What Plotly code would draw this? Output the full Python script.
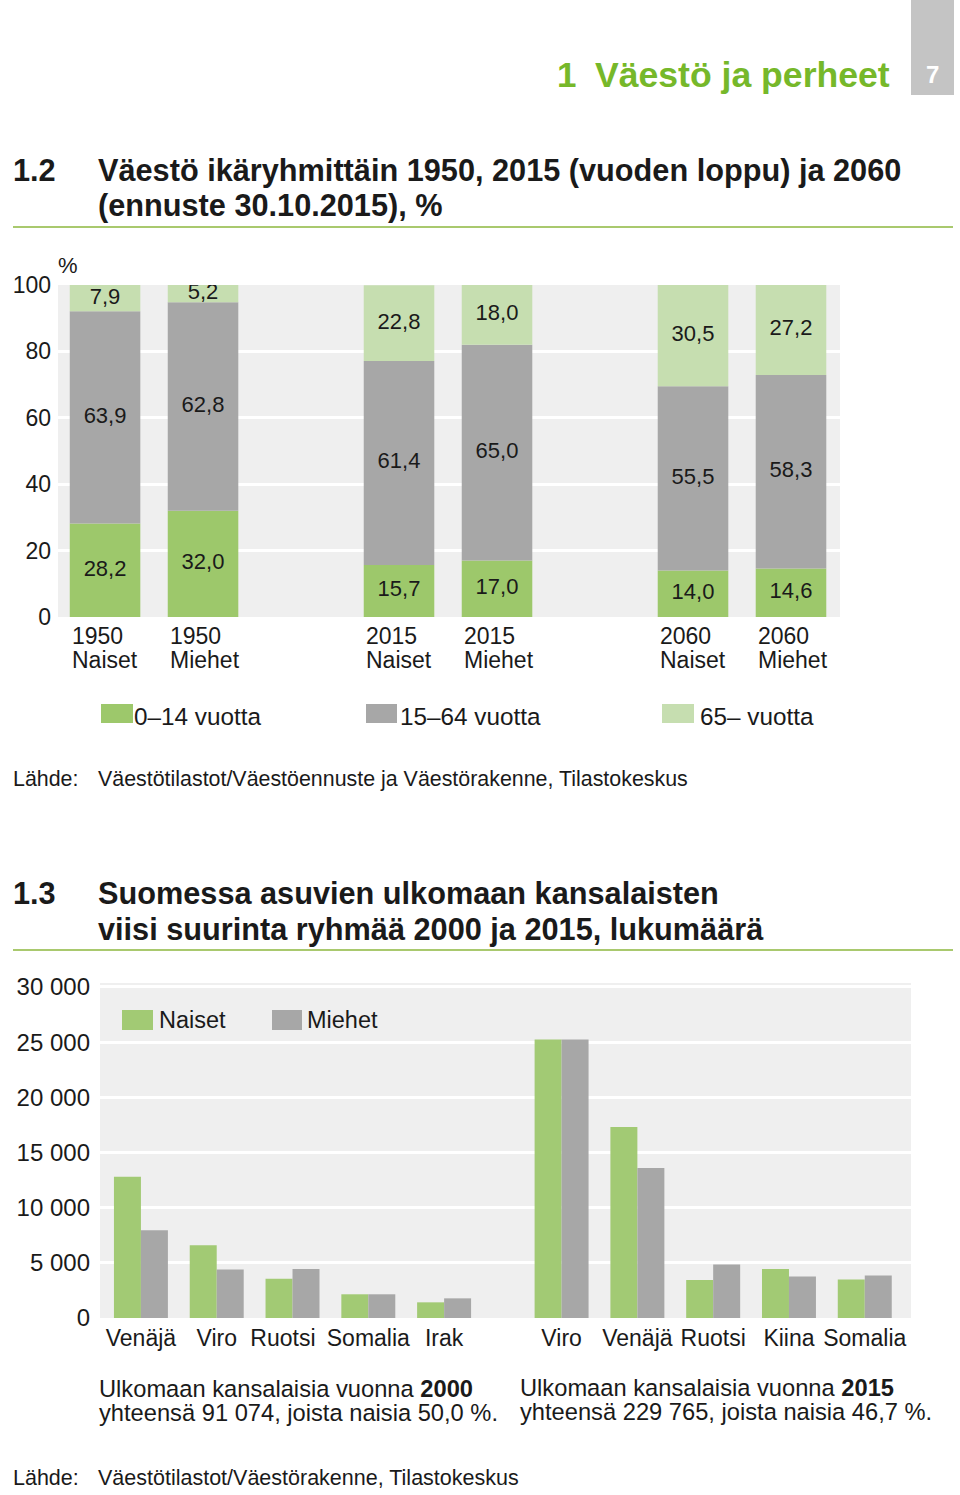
import plotly.graph_objects as go

# ---------------- data ----------------
# Chart 1.2
groups_year = ["1950", "1950", "2015", "2015", "2060", "2060"]
groups_sex = ["Naiset", "Miehet", "Naiset", "Miehet", "Naiset", "Miehet"]
age_0_14 = [28.2, 32.0, 15.7, 17.0, 14.0, 14.6]
age_15_64 = [63.9, 62.8, 61.4, 65.0, 55.5, 58.3]
age_65 = [7.9, 5.2, 22.8, 18.0, 30.5, 27.2]
age_names = ["0\u201314 vuotta", "15\u201364 vuotta", "65\u2013 vuotta"]

# Chart 1.3
countries_2000 = ["Venäjä", "Viro", "Ruotsi", "Somalia", "Irak"]
women_2000 = [12800, 6600, 3550, 2150, 1420]
men_2000 = [7950, 4400, 4450, 2150, 1780]
countries_2015 = ["Viro", "Venäjä", "Ruotsi", "Kiina", "Somalia"]
women_2015 = [25250, 17300, 3450, 4450, 3500]
men_2015 = [25250, 13600, 4850, 3750, 3850]

# ---------------- style ----------------
W, H = 960, 1495
FONT = "Liberation Sans, Arial, sans-serif"
TXT = "#1a1a1a"
C_GREEN = "#9dc86b"
C_GREEN2 = "#a2ca74"
C_GRAY = "#a7a7a7"
C_LIGHT = "#c6deb0"
C_BG = "#efefef"
C_HEAD = "#76b82a"
C_RULE = "#a9c96e"


def px(x):
    return x / W


def py(y):
    return 1 - y / H


def fmt(v):
    return f"{v:.1f}".replace(".", ",")


fig = go.Figure()

# ---- chart 1: stacked bars (manual base, overlay mode) ----
slots = [0, 1, 3, 4, 6, 7]
bw1 = 0.72
base1 = [0] * 6
base2 = [a for a in age_0_14]
base3 = [a + b for a, b in zip(age_0_14, age_15_64)]
for vals, base, col, name in [
    (age_0_14, base1, C_GREEN, age_names[0]),
    (age_15_64, base2, C_GRAY, age_names[1]),
    (age_65, base3, C_LIGHT, age_names[2]),
]:
    fig.add_trace(go.Bar(
        x=slots, y=vals, base=base, width=bw1, offset=-bw1 / 2,
        marker=dict(color=col, line=dict(width=0)), name=name,
        xaxis="x", yaxis="y", showlegend=False, opacity=1,
    ))
    fig.add_trace(go.Scatter(
        x=slots, y=[b + v / 2 for b, v in zip(base, vals)],
        text=[fmt(v) for v in vals], mode="text",
        textfont=dict(family=FONT, size=22, color=TXT),
        xaxis="x", yaxis="y", showlegend=False, hoverinfo="skip",
    ))

# ---- chart 2: grouped bars ----
pos_2000 = [i for i in range(len(countries_2000))]
pos_2015 = [5.55 + i for i in range(len(countries_2015))]
bw2 = 0.356
fig.add_trace(go.Bar(x=pos_2000 + pos_2015, y=women_2000 + women_2015,
                     width=bw2, offset=-bw2, marker=dict(color=C_GREEN2, line=dict(width=0)),
                     name="Naiset", xaxis="x2", yaxis="y2", showlegend=False, opacity=1))
fig.add_trace(go.Bar(x=pos_2000 + pos_2015, y=men_2000 + men_2015,
                     width=bw2, offset=0, marker=dict(color=C_GRAY, line=dict(width=0)),
                     name="Miehet", xaxis="x2", yaxis="y2", showlegend=False, opacity=1))

# tick labels; the left "Ruotsi" sits a little left of its group as in the original
ticktext2 = [c + ("\u00a0\u00a0\u00a0" if c == "Ruotsi" else "") for c in countries_2000] + countries_2015

ann = []


def text(x, y, s, size=21, color=TXT, xanchor="left", yanchor="middle", xref="paper", bold=False):
    ann.append(dict(
        x=x if xref != "paper" else px(x), y=py(y), xref=xref, yref="paper",
        text=f"<b>{s}</b>" if bold else s, showarrow=False,
        xanchor=xanchor, yanchor=yanchor, align="left",
        font=dict(family=FONT, size=size, color=color),
    ))


shapes = []


def rect(x0, y0, x1, y1, color):
    shapes.append(dict(type="rect", xref="paper", yref="paper",
                       x0=px(x0), x1=px(x1), y0=py(y1), y1=py(y0),
                       fillcolor=color, line=dict(width=0), layer="below"))


def hline(y, x0, x1, color, width=2):
    shapes.append(dict(type="line", xref="paper", yref="paper",
                       x0=px(x0), x1=px(x1), y0=py(y), y1=py(y),
                       line=dict(color=color, width=width)))


# header
rect(911, 0, 954, 95, "#c4c4c4")
text(932, 75, "7", size=24, color="white", xanchor="center", bold=True)
text(555, 75, "1", size=35, color=C_HEAD, bold=True)
text(593, 75, "Väestö ja perheet", size=35.6, color=C_HEAD, bold=True)

# title 1.2
text(11, 170, "1.2", size=30.7, bold=True)
text(96, 170, "Väestö ikäryhmittäin 1950, 2015 (vuoden loppu) ja 2060", size=30.7, bold=True)
text(96, 205, "(ennuste 30.10.2015), %", size=30.7, bold=True)
hline(227, 13, 953, C_RULE)

text(56, 265, "%", size=22)

# chart 1 x labels
for s, yr, sx in zip(slots, groups_year, groups_sex):
    text(s - bw1 / 2, 636, yr, size=23, xref="x")
    text(s - bw1 / 2, 660, sx, size=23, xref="x")

# chart 1 legend
for (x0, x1, tx), col, nm in zip([(101, 133, 132), (366, 397, 398), (662, 694, 698)],
                                 [C_GREEN, C_GRAY, C_LIGHT], age_names):
    rect(x0, 704, x1, 723, col)
    text(tx, 716, nm, size=24.3)

text(11, 779, "Lähde:", size=21.4)
text(96, 779, "Väestötilastot/Väestöennuste ja Väestörakenne, Tilastokeskus", size=21.4)

# title 1.3
text(11, 893, "1.3", size=30.7, bold=True)
text(96, 893, "Suomessa asuvien ulkomaan kansalaisten", size=30.7, bold=True)
text(96, 929, "viisi suurinta ryhmää 2000 ja 2015, lukumäärä", size=30.7, bold=True)
hline(950, 13, 953, C_RULE)

# chart 2 legend
rect(122, 1010, 153, 1030, C_GREEN2)
text(157, 1020, "Naiset", size=23.5)
rect(272, 1010, 302, 1030, C_GRAY)
text(305, 1020, "Miehet", size=23.5)

# chart 2 notes
text(97, 1389, "Ulkomaan kansalaisia vuonna <b>2000</b>", size=23.7)
text(97, 1413, "yhteensä 91 074, joista naisia 50,0 %.", size=23.7)
text(518, 1388, "Ulkomaan kansalaisia vuonna <b>2015</b>", size=23.7)
text(518, 1412, "yhteensä 229 765, joista naisia 46,7 %.", size=23.7)

text(11, 1478, "Lähde:", size=21.5)
text(96, 1478, "Väestötilastot/Väestörakenne, Tilastokeskus", size=21.5)

fig.update_layout(
    width=W, height=H, autosize=False,
    margin=dict(l=0, r=0, t=0, b=0, pad=0, autoexpand=False),
    paper_bgcolor="white", plot_bgcolor=C_BG,
    barmode="overlay", separators=", ", showlegend=False,
    font=dict(family=FONT, size=23, color=TXT),
    annotations=ann, shapes=shapes,
    xaxis=dict(domain=[px(58), px(840)], range=[-0.48, 7.5], showticklabels=False,
               showgrid=False, zeroline=False, anchor="y", fixedrange=True, automargin=False),
    yaxis=dict(domain=[py(617), py(285)], range=[0, 100], tickvals=[0, 20, 40, 60, 80, 100],
               showgrid=True, gridcolor="white", gridwidth=3, zeroline=False,
               tickfont=dict(family=FONT, size=23, color=TXT), ticklabelstandoff=6,
               anchor="x", fixedrange=True, automargin=False),
    xaxis2=dict(domain=[px(100), px(911)], range=[-0.54, 10.16],
                tickvals=pos_2000 + pos_2015, ticktext=ticktext2,
                tickangle=0, showgrid=False, zeroline=False, anchor="y2", ticklabelstandoff=4,
                tickfont=dict(family=FONT, size=23, color=TXT), fixedrange=True, automargin=False),
    yaxis2=dict(domain=[py(1318), py(983)], range=[0, 30362],
                tickvals=[0, 5000, 10000, 15000, 20000, 25000, 30000], tickformat=",d",
                showgrid=True, gridcolor="white", gridwidth=3, zeroline=False,
                tickfont=dict(family=FONT, size=24, color=TXT), ticklabelstandoff=9,
                anchor="x2", fixedrange=True, automargin=False),
)

fig.write_html("out.html", config={"displayModeBar": False, "responsive": False},
               post_script="document.body.style.margin='0px';")
